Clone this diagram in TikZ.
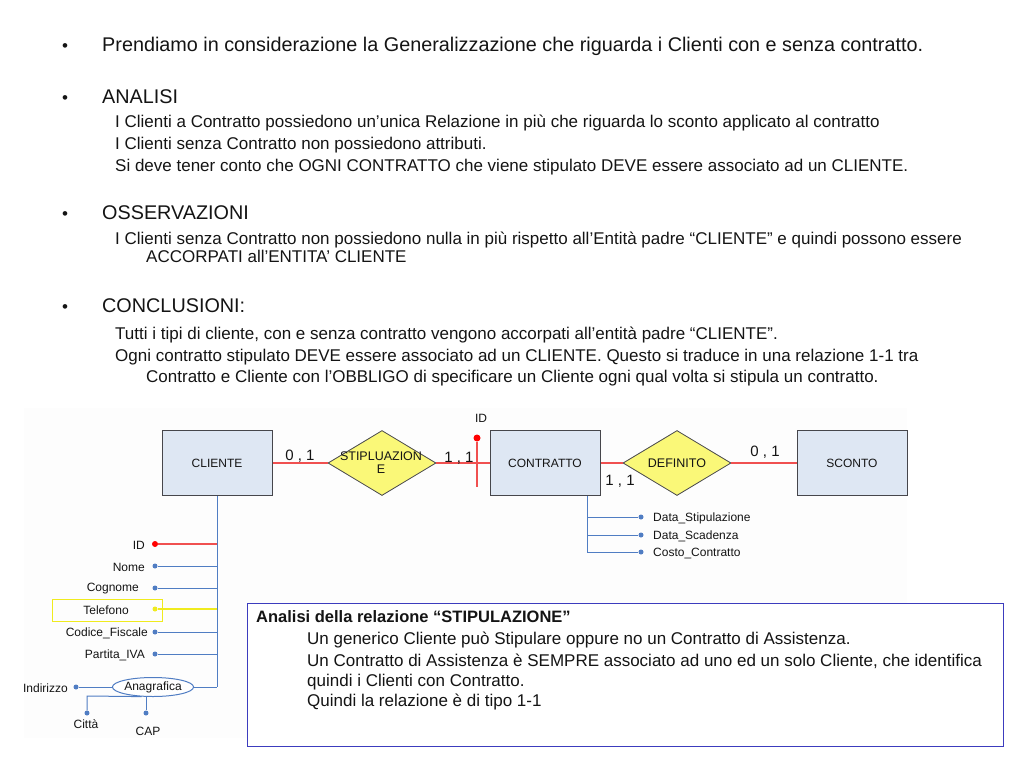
\documentclass[tikz,border=0pt]{standalone}
\usepackage{fontspec}
\setmainfont{Liberation Sans}
\usetikzlibrary{shapes.geometric}
\definecolor{entfill}{RGB}{222,231,243}
\definecolor{entdraw}{RGB}{70,70,75}
\definecolor{relfill}{RGB}{250,248,120}
\definecolor{reddraw}{RGB}{240,80,80}
\definecolor{bluel}{RGB}{80,125,195}
\definecolor{yell}{RGB}{240,235,30}
\definecolor{boxblue}{RGB}{60,60,190}
\definecolor{txt}{RGB}{20,20,20}
\definecolor{bgfaint}{RGB}{253,253,253}
\begin{document}
\begin{tikzpicture}[x=1pt,y=-1pt,
  every node/.style={text=txt},
  bigtxt/.style={anchor=base west,inner sep=0pt,font=\fontsize{19.8}{22}\selectfont},
  subtxt/.style={anchor=base west,inner sep=0pt,font=\fontsize{17}{19}\selectfont},
  bul/.style={anchor=base,inner sep=0pt,font=\fontsize{17}{19}\selectfont},
  entity/.style={draw=entdraw,fill=entfill,line width=1pt,minimum width=110pt,minimum height=65pt,inner sep=0pt,font=\fontsize{12}{14}\selectfont},
  relship/.style={diamond,draw=entdraw,fill=relfill,line width=0.8pt,minimum width=108pt,minimum height=65pt,inner sep=0pt},
  reltext/.style={inner sep=0pt,font=\fontsize{12.5}{13}\selectfont,align=center},
  card/.style={inner sep=0pt,font=\fontsize{15}{17}\selectfont},
  attr/.style={inner sep=0pt,font=\fontsize{12}{14}\selectfont},
  redline/.style={draw=reddraw,line width=1.2pt},
  blueline/.style={draw=bluel,line width=1pt},
  dot/.style={circle,fill=bluel,inner sep=0pt,minimum size=5pt},
  reddot/.style={circle,fill=red,inner sep=0pt,minimum size=7pt},
  yeldot/.style={circle,fill=yell,inner sep=0pt,minimum size=5pt},
  boxtxt/.style={anchor=base west,inner sep=0pt,font=\fontsize{17}{19}\selectfont}
]
\useasboundingbox (0,0) rectangle (1024,768);
\fill[bgfaint] (24,408) rectangle (907,738);

% ---------- text part ----------
\node[bul] (b1) at (65,51.5) {•};
\node[bigtxt] (t1) at (102,51.5) {Prendiamo in considerazione la Generalizzazione che riguarda i Clienti con e senza contratto.};
\node[bul] (b2) at (65,103.5) {•};
\node[bigtxt] (t2) at (102,103.5) {ANALISI};
\node[subtxt] (t2a) at (115,127.5) {I Clienti a Contratto possiedono un’unica Relazione in più che riguarda lo sconto applicato al contratto};
\node[subtxt] (t2b) at (115,149.5) {I Clienti senza Contratto non possiedono attributi.};
\node[subtxt] (t2c) at (115,171.5) {Si deve tener conto che OGNI CONTRATTO che viene stipulato DEVE essere associato ad un CLIENTE.};
\node[bul] (b3) at (65,219.5) {•};
\node[bigtxt] (t3) at (102,219.5) {OSSERVAZIONI};
\node[subtxt] (t3a) at (115,244.5) {I Clienti senza Contratto non possiedono nulla in più rispetto all’Entità padre “CLIENTE” e quindi possono essere};
\node[subtxt] (t3b) at (146,262.5) {ACCORPATI all’ENTITA’ CLIENTE};
\node[bul] (b4) at (65,312.5) {•};
\node[bigtxt] (t4) at (102,312.5) {CONCLUSIONI:};
\node[subtxt] (t4a) at (115,339.5) {Tutti i tipi di cliente, con e senza contratto vengono accorpati all’entità padre “CLIENTE”.};
\node[subtxt] (t4b) at (115,361.5) {Ogni contratto stipulato DEVE essere associato ad un CLIENTE. Questo si traduce in una relazione 1-1 tra};
\node[subtxt] (t4c) at (146,382.5) {Contratto e Cliente con l’OBBLIGO di specificare un Cliente ogni qual volta si stipula un contratto.};

% ---------- ER diagram ----------
\node[entity] (cliente) at (217,463) {CLIENTE};
\node[entity] (contratto) at (545,463) {CONTRATTO};
\node[entity] (sconto) at (852,463) {SCONTO};
\node[relship] (stip) at (382,463) {};
\node[reltext] (stiptxt) at (381,463) {STIPLUAZION\\E};
\node[relship] (def) at (677,463) {};
\node[reltext] (deftxt) at (677,463) {DEFINITO};

\draw[redline] (cliente.east) -- (stip.west);
\draw[redline] (stip.east) -- (contratto.west);
\draw[redline] (contratto.east) -- (def.west);
\draw[redline] (def.east) -- (sconto.west);

\node[card] (c1) at (300,456) {0 , 1};
\node[card] (c2) at (459,458) {1 , 1};
\node[card] (c3) at (620,481) {1 , 1};
\node[card] (c4) at (765,452) {0 , 1};

% ID of CONTRATTO
\node[reddot] (idcdot) at (477,438) {};
\coordinate (idcend) at (477,487);
\draw[redline] (idcdot) -- (idcend);
\node[attr] (idclab) at (481,418) {ID};

% CONTRATTO attributes
\coordinate (cs0) at (587,495.5);
\coordinate (cs1) at (587,517);
\coordinate (cs2) at (587,535);
\coordinate (cs3) at (587,552);
\node[dot] (cd1) at (641,517) {};
\node[dot] (cd2) at (641,535) {};
\node[dot] (cd3) at (641,552) {};
\draw[blueline] (cs0) -- (cs3);
\draw[blueline] (cs1) -- (cd1);
\draw[blueline] (cs2) -- (cd2);
\draw[blueline] (cs3) -- (cd3);
\node[attr,anchor=west] (ca1) at (653,518) {Data\_Stipulazione};
\node[attr,anchor=west] (ca2) at (653,536) {Data\_Scadenza};
\node[attr,anchor=west] (ca3) at (653,553) {Costo\_Contratto};

% CLIENTE attributes
\coordinate (k1) at (217,544);
\coordinate (k2) at (217,566);
\coordinate (k3) at (217,588);
\coordinate (k4) at (217,609);
\coordinate (k5) at (217,632);
\coordinate (k6) at (217,654);
\coordinate (k7) at (217,687);
\draw[blueline] (cliente.south) -- (k7);
\node[reddot,minimum size=6pt] (kd1) at (155,544) {};
\node[dot] (kd2) at (155,566) {};
\node[dot] (kd3) at (155,588) {};
\node[yeldot] (kd4) at (155,609) {};
\node[dot] (kd5) at (155,632) {};
\node[dot] (kd6) at (155,654) {};
\draw[redline] (k1) -- (kd1);
\draw[blueline] (k2) -- (kd2);
\draw[blueline] (k3) -- (kd3);
\draw[draw=yell,line width=1.2pt] (k4) -- (kd4);
\draw[blueline] (k5) -- (kd5);
\draw[blueline] (k6) -- (kd6);
\node[attr,anchor=east] (ka1) at (145,545) {ID};
\node[attr,anchor=east] (ka2) at (145,567) {Nome};
\node[attr,anchor=east] (ka3) at (139,589) {Cognome};
\node[draw=yell,line width=1pt,minimum width=110pt,minimum height=22pt,inner sep=0pt] (telbox) at (107,610) {};
\node[attr] (ka4) at (106,610) {Telefono};
\node[attr,anchor=east] (ka5) at (148,633) {Codice\_Fiscale};
\node[attr,anchor=east] (ka6) at (145,655) {Partita\_IVA};

\node[ellipse,draw=bluel,line width=1pt,fill=white,minimum width=80pt,minimum height=19pt,inner sep=0pt,attr] (anag) at (153,687) {Anagrafica};
\draw[blueline] (anag.east) -- (k7);
\node[dot] (ind) at (76,687) {};
\draw[blueline] (ind) -- (anag.west);
\node[attr,anchor=east] (indlab) at (68,688) {Indirizzo};
\node[dot] (citta) at (87,713) {};
\coordinate (cittak) at (87,696);
\draw[blueline] (anag.-140) -- (cittak) -- (citta);
\node[attr] (cittalab) at (86,724) {Città};
\node[dot] (cap) at (146,713) {};
\draw[blueline] (cap |- anag.south) -- (cap);
\node[attr] (caplab) at (148,731) {CAP};

% ---------- analysis box ----------
\node[draw=boxblue,line width=1pt,fill=white,minimum width=756pt,minimum height=143pt,inner sep=0pt] (abox) at (625,674.5) {};
\node[anchor=base west,inner sep=0pt,font=\bfseries\fontsize{16.5}{18}\selectfont] (ah) at (256,622.5) {Analisi della relazione “STIPULAZIONE”};
\node[boxtxt] (a1) at (307,644.5) {Un generico Cliente può Stipulare oppure no un Contratto di Assistenza.};
\node[boxtxt] (a2) at (307,666.5) {Un Contratto di Assistenza è SEMPRE associato ad uno ed un solo Cliente, che identifica};
\node[boxtxt] (a3) at (307,686.5) {quindi i Clienti con Contratto.};
\node[boxtxt] (a4) at (307,706.5) {Quindi la relazione è di tipo 1-1};
\end{tikzpicture}
\end{document}
